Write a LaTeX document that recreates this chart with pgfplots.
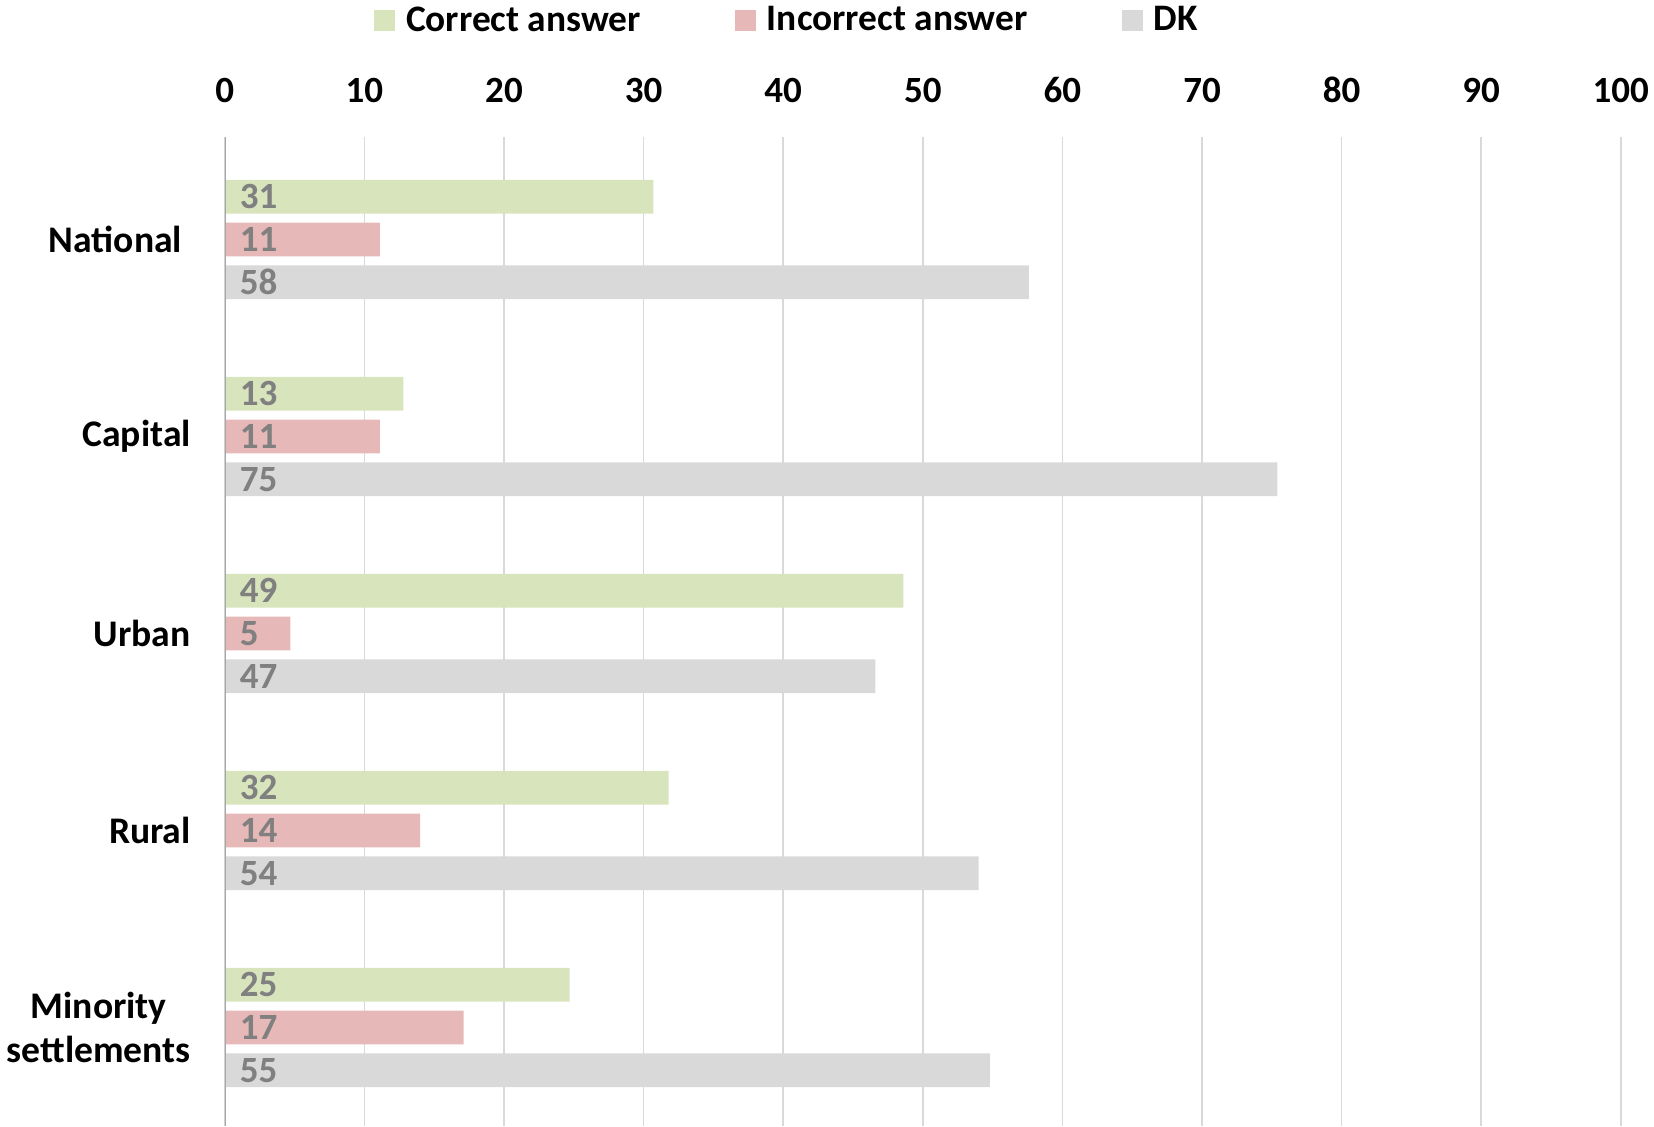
\documentclass[border=0pt]{standalone}
\usepackage{pgfplots}
\pgfplotsset{compat=1.18}
\usepackage{pgfplotstable}
\usepackage{fontspec}
\setmainfont{Carlito}
\definecolor{cgreen}{HTML}{D8E4BC}
\definecolor{cpink}{HTML}{E6B8B7}
\definecolor{cgray}{HTML}{D9D9D9}
\definecolor{labgray}{HTML}{808080}
\definecolor{gridgray}{HTML}{D9D9D9}
\definecolor{axgray}{HTML}{A6A6A6}
\pgfplotstableread{
y x lab
0 30.7 31
1 12.8 13
2 48.6 49
3 31.8 32
4 24.7 25
}\correct
\pgfplotstableread{
y x lab
0 11.1 11
1 11.1 11
2 4.7 5
3 14.0 14
4 17.1 17
}\incorrect
\pgfplotstableread{
y x lab
0 57.6 58
1 75.4 75
2 46.6 47
3 54.0 54
4 54.8 55
}\dk
\begin{document}
\begin{tikzpicture}
\begin{axis}[
  name=ax,
  width=698pt, height=494.5pt, scale only axis,
  xmin=0, xmax=100, ymin=-0.52, ymax=4.5,
  y dir=reverse,
  xtick={0,10,...,100},
  xticklabel pos=upper,
  ytick={0,1,2,3,4},
  yticklabels={{National\hspace*{4.3pt}},Capital,Urban,Rural,{Minority\\settlements}},
  yticklabel style={align=center, font=\fontsize{18.8}{22}\selectfont\bfseries, xshift=-13.5pt},
  xticklabel style={font=\fontsize{18.5}{21}\selectfont\bfseries, yshift=13.5pt},
  /pgf/number format/assume math mode=true,
  major tick length=0pt,
  axis line style={draw=none},
  xmajorgrids, grid style={gridgray, line width=0.8pt},
  xbar, bar width=0.171,
  legend style={draw=none, legend columns=3, at={(0.4033,1.118)}, anchor=center,
    font=\fontsize{18.7}{21}\selectfont\bfseries,
    /tikz/every even column/.append style={column sep=45pt}},
  legend image code/.code={\fill[#1] (0pt,-5.25pt) rectangle (10.5pt,5.25pt); \path (14pt,0pt);},
  nodes near coords style={font=\fontsize{18.5}{21}\selectfont\bfseries, text=labgray, anchor=west, xshift=4pt},
]
\addplot[fill=cgreen, draw=none, bar shift=-0.217] table[x=x, y=y] {\correct};
\addlegendentry{Correct answer}
\addplot[fill=cpink, draw=none, bar shift=0] table[x=x, y=y] {\incorrect};
\addlegendentry{Incorrect answer}
\addplot[fill=cgray, draw=none, bar shift=0.217] table[x=x, y=y] {\dk};
\addlegendentry{DK}
\addplot[draw=none, fill=none, bar shift=-0.217, forget plot, nodes near coords, point meta=explicit symbolic] table[x expr=0, y=y, meta=lab] {\correct};
\addplot[draw=none, fill=none, bar shift=0, forget plot, nodes near coords, point meta=explicit symbolic] table[x expr=0, y=y, meta=lab] {\incorrect};
\addplot[draw=none, fill=none, bar shift=0.217, forget plot, nodes near coords, point meta=explicit symbolic] table[x expr=0, y=y, meta=lab] {\dk};
\draw[axgray, line width=0.8pt] (rel axis cs:0,0) -- (rel axis cs:0,1);
\end{axis}
\pgfresetboundingbox
\path[use as bounding box] ([xshift=-112.4pt]ax.south west) rectangle ([xshift=16.6pt,yshift=68.5pt]ax.north east);
\end{tikzpicture}
\end{document}
